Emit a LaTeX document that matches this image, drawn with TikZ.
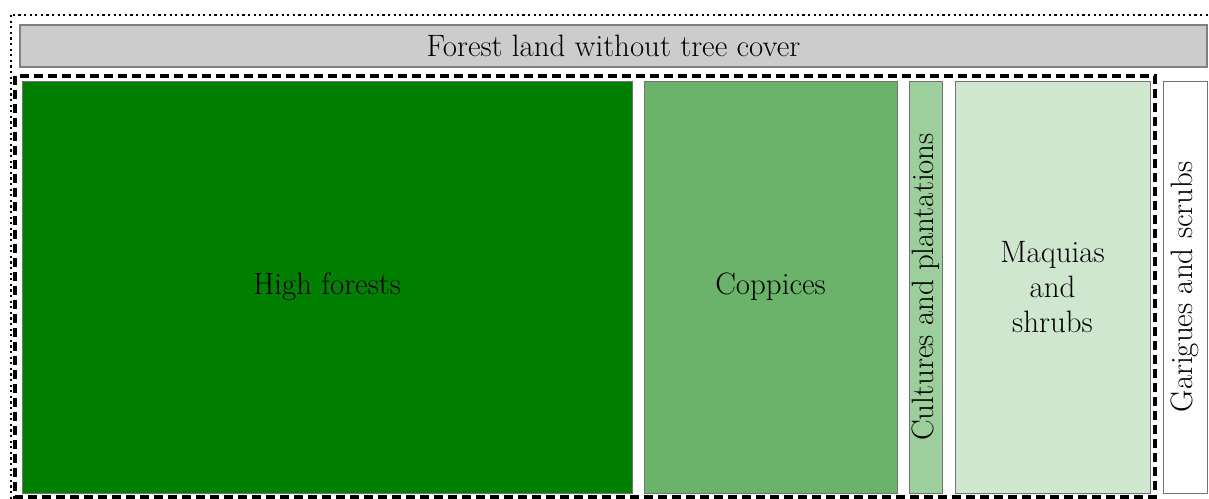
\documentclass[tikz,border=0pt]{standalone}
\usetikzlibrary{positioning}
\newlength{\pxu}
\setlength{\pxu}{0.75pt}
\definecolor{highgreen}{HTML}{007F00}
\definecolor{coppgreen}{HTML}{6BB36B}
\definecolor{cultgreen}{HTML}{9CCF9C}
\definecolor{maqgreen}{HTML}{CFE6CF}
\definecolor{bargray}{HTML}{CCCCCC}
\begin{document}
\begin{tikzpicture}[x=\pxu, y=-\pxu,
  area/.style={draw=black!55, line width=0.6pt, inner sep=0pt, font=\fontsize{23.2}{26.3}\selectfont, align=center},
  dotframe/.style={line width=1.1pt, dash pattern=on 1.6pt off 2.6pt},
  dashframe/.style={line width=2.3pt, dash pattern=on 7pt off 3.5pt}]
  \useasboundingbox (0,0) rectangle (1209,499);
  \clip (0,0) rectangle (1209,499);
  %outer and inner frames
  \draw[dotframe] (11,15) rectangle (1230,520);
  \draw[dashframe] (15,76) rectangle (1155,497);

  %boxes with text
  \node[area, draw=black!50, line width=1.1pt, fill=bargray, minimum width=1187\pxu, minimum height=42\pxu] (bar) at (613.5,46) {Forest land without tree cover};
  \node[area, fill=highgreen, minimum width=610\pxu, minimum height=412\pxu] (high) at (327,287) {High forests};
  \node[area, fill=coppgreen, minimum width=253\pxu, minimum height=412\pxu] (copp) at (770.5,287) {Coppices};
  \node[area, fill=cultgreen, minimum width=412\pxu, minimum height=33\pxu, rotate=90] (cult) at (925.5,287) {Cultures and plantations};
  \node[area, fill=maqgreen, minimum width=195\pxu, minimum height=412\pxu] (maq) at (1052.5,287) {Maquias\\and\\shrubs};
  \node[area, fill=white, minimum width=412\pxu, minimum height=44\pxu, rotate=90] (gar) at (1185,287) {Garigues and scrubs};
\end{tikzpicture}
\end{document}
